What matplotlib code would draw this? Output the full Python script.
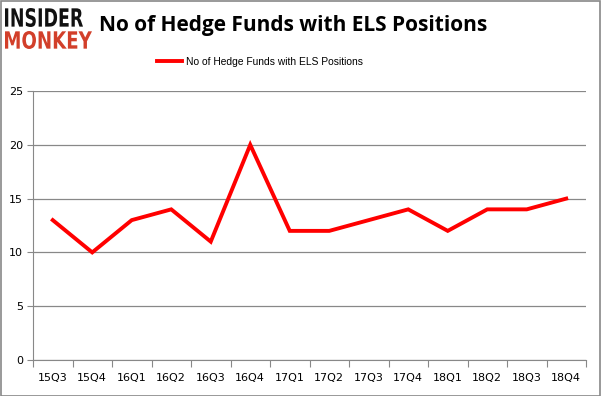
import matplotlib.pyplot as plt
from matplotlib import font_manager
from matplotlib.patches import Rectangle, PathPatch
from matplotlib.textpath import TextPath
from matplotlib.font_manager import FontProperties
from matplotlib.transforms import Affine2D, IdentityTransform

quarters = ["15Q3", "15Q4", "16Q1", "16Q2", "16Q3", "16Q4", "17Q1",
            "17Q2", "17Q3", "17Q4", "18Q1", "18Q2", "18Q3", "18Q4"]
funds = [13, 10, 13, 14, 11, 20, 12, 12, 13, 14, 12, 14, 14, 15]
y_ticks = [0, 5, 10, 15, 20, 25]

names = {f.name for f in font_manager.fontManager.ttflist}
if "Liberation Sans Narrow" in names:
    leg_font, leg_size = "Liberation Sans Narrow", 8.8
else:
    leg_font, leg_size = "Liberation Sans", 7.4

fig = plt.figure(figsize=(6.01, 3.96), dpi=100)
W, H = 601, 396
ax = fig.add_axes([33 / W, 1 - 360 / H, 553 / W, (360 - 91) / H])

x = [i + 0.5 for i in range(len(quarters))]
line, = ax.plot(x, funds, color="#ff0000", lw=2.8, solid_joinstyle="miter",
                label="No of Hedge Funds with ELS Positions")

ax.set_xlim(0, len(quarters))
ax.set_ylim(0, 25)
ax.set_yticks(y_ticks)
ax.set_xticks(range(len(quarters) + 1))
ax.set_xticklabels([])
ax.set_xticks(x, minor=True)
ax.set_xticklabels(quarters, minor=True)
ax.tick_params(axis="x", which="major", length=5, color="#888888", direction="out")
ax.tick_params(axis="x", which="minor", length=0, pad=9, labelsize=8)
ax.tick_params(axis="y", length=4, color="#888888", labelsize=8, pad=3)
ax.grid(axis="y", color="#888888", lw=0.9)
ax.set_axisbelow(True)
for s in ["top", "right"]:
    ax.spines[s].set_visible(False)
for s in ["left", "bottom"]:
    ax.spines[s].set_color("#888888")

fig.legend(handles=[line], loc="center", bbox_to_anchor=(260 / W, 1 - 62 / H),
           frameon=False, prop={"family": leg_font, "size": leg_size},
           handlelength=25 * 0.72 / leg_size, handletextpad=0.3)

fig.text(293 / W, 1 - 25 / H, "No of Hedge Funds with ELS Positions",
         fontsize=15, fontweight="bold", ha="center", va="center",
         family="Open Sans")


# logo: stretch bold text into the boxes it fills in the reference (pixels)
def logo_word(word, color, x0, x1, top, bottom):
    tp = TextPath((0, 0), word, size=20,
                  prop=FontProperties(family="DejaVu Sans", weight="bold"))
    ext = tp.get_extents()
    sx = (x1 - x0) / ext.width
    sy = (bottom - top) / ext.height
    tr = (Affine2D().translate(-ext.x0, -ext.y0).scale(sx, sy)
          .translate(x0, H - bottom))
    fig.patches.append(PathPatch(tr.transform_path(tp), color=color, lw=0,
                                 transform=IdentityTransform()))


logo_word("INSIDER", "#111111", 5, 83, 8, 27)
logo_word("MONKEY", "#d23f2a", 5, 92, 31, 49)

fig.patches.append(Rectangle((0.5 / W, 0.5 / H), 1 - 1.5 / W, 1 - 1.5 / H,
                             transform=fig.transFigure, fill=False,
                             edgecolor="#888888", lw=1.2))

fig.savefig("out.png", dpi=100)
